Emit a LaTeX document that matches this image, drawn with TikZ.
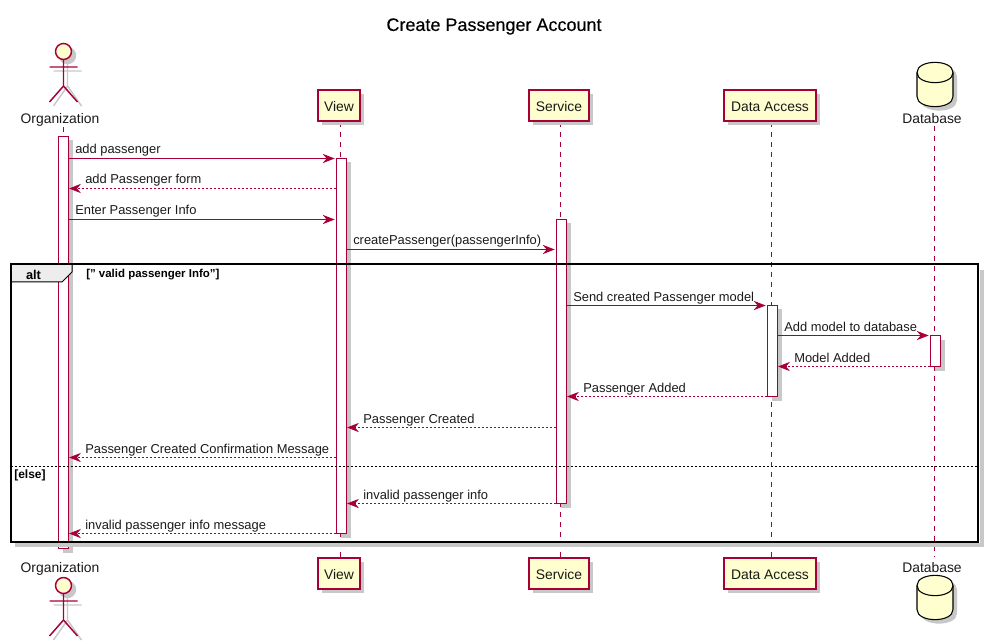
\documentclass[tikz,border=0pt]{standalone}
\usepackage{fontspec}
\setmainfont{Liberation Sans}
\newfontfamily\titlefont[FakeBold=0.25]{Liberation Sans}
\usetikzlibrary{arrows.meta,shadows}
\definecolor{umlred}{HTML}{A80036}
\definecolor{umlfill}{HTML}{FEFECE}
\definecolor{umlshadow}{HTML}{C8C8C8}
\tikzset{
  box/.style={rectangle,draw=umlred,fill=umlfill,line width=1.15pt,inner sep=0pt,minimum height=23.25pt,text height=9pt,text depth=0pt,font=\fontsize{10.4}{12}\selectfont,text=black!90,
    drop shadow={shadow xshift=3pt,shadow yshift=-3pt,fill=umlshadow,opacity=1}},
  bar/.style={rectangle,draw=umlred,fill=white,line width=.75pt,inner sep=0pt,minimum width=7.5pt,
    drop shadow={shadow xshift=3pt,shadow yshift=-3pt,fill=umlshadow,opacity=1}},
  partname/.style={inner sep=0pt,font=\fontsize{10.4}{12}\selectfont,text=black!90},
  ret/.style={draw=umlred,line width=.75pt,-{Stealth[length=9pt,width=7pt,inset=3pt]},dash pattern=on 1.5pt off 1.5pt},
  msg/.style={draw=umlred,line width=.75pt,-{Stealth[length=9pt,width=7pt,inset=3pt]},shorten >=1pt},
  msglabel/.style={anchor=base west,inner sep=0pt,font=\fontsize{9.68}{11}\selectfont,text=black!90},
  life/.style={draw=umlred,line width=.75pt,dash pattern=on 3.75pt off 3.75pt},
  frametext/.style={inner sep=0pt,font=\bfseries\fontsize{8.6}{10}\selectfont}
}
\begin{document}
\begin{tikzpicture}[x=.75pt,y=-.75pt]
\useasboundingbox (0,0) rectangle (991,641);
\node[inner sep=0pt,font=\titlefont\fontsize{13.5}{16}\selectfont] (title) at (494,26.5) {Create Passenger Account};

% lifelines
\foreach \x/\f in {63.5/127, 340.5/122, 560.5/122, 771.5/122, 934.5/126}
  \draw[life] (\x,\f) -- (\x,557);

% actor, top and bottom
\foreach \ay in {43, 577} {
  \draw[umlshadow,line width=1.1pt,fill=umlshadow] (67.5,\ay+12.5) circle (8);
  \draw[umlshadow,line width=1.1pt] (67.5,\ay+20) -- (67.5,\ay+43) -- (53.5,\ay+63) (67.5,\ay+43) -- (81.5,\ay+63) (53.5,\ay+28) -- (81.5,\ay+28);
  \draw[umlred,line width=1.1pt,fill=umlfill] (63.5,\ay+8.5) circle (8);
  \draw[umlred,line width=1.1pt] (63.5,\ay+16.5) -- (63.5,\ay+43) -- (49.5,\ay+59) (63.5,\ay+43) -- (77.5,\ay+59) (49.5,\ay+24) -- (77.5,\ay+24);
}
\node[partname] (orgtop) at (60,119.5) {Organization};
\node[partname] (orgbot) at (60,568.5) {Organization};

% participants
\foreach \n/\x/\w/\t in {view/339/42/View, service/559/60/Service, data/770/92/Data Access} {
  \node[box,minimum width=\w*.75pt] (\n top) at (\x,105.5) {\t};
  \node[box,minimum width=\w*.75pt] (\n bot) at (\x,573.5) {\t};
}

% database, top and bottom
\foreach \dy in {62, 575} {
  \fill[umlshadow,shift={(4,4)}] (917,\dy+10.5) .. controls (917,\dy-3) and (953,\dy-3) .. (953,\dy+10.5) -- (953,\dy+34.5) .. controls (953,\dy+48) and (917,\dy+48) .. (917,\dy+34.5) -- cycle;
  \draw[black,line width=.8pt,fill=umlfill] (917,\dy+10.5) .. controls (917,\dy-3) and (953,\dy-3) .. (953,\dy+10.5) -- (953,\dy+34.5) .. controls (953,\dy+48) and (917,\dy+48) .. (917,\dy+34.5) -- cycle;
  \draw[black,line width=.8pt] (917,\dy+10.5) .. controls (917,\dy+24) and (953,\dy+24) .. (953,\dy+10.5);
}
\node[partname] (dbtoplabel) at (932,118.5) {Database};
\node[partname] (dbbotlabel) at (932,567.5) {Database};

% activation bars
\foreach \n/\x/\f/\s in {barorg/63.5/136.5/548.5, barview/341.5/158.5/533.5, barservice/561.5/219.5/503.5, bardata/772.5/305.5/396.5, bardb/935.5/335.5/366.5}
  \node[bar,minimum height={(\s-\f)*.75pt}] (\n) at (\x,{(\f+\s)/2}) {};

% messages
\foreach \a/\b/\y/\st/\tx/\t [count=\i] in {
  barorg.east/barview.west/158.5/msg/75/add passenger,
  barview.west/barorg.east/188.5/ret/85/add Passenger form,
  barorg.east/barview.west/219.5/msg/75/Enter Passenger Info,
  barview.east/barservice.west/249.5/msg/353/createPassenger(passengerInfo),
  barservice.east/bardata.west/305.5/msg/573/Send created Passenger model,
  bardata.east/bardb.west/335.5/msg/784/Add model to database,
  bardb.west/bardata.east/366.5/ret/794/Model Added,
  bardata.west/barservice.east/396.5/ret/583/Passenger Added,
  barservice.west/barview.east/427.5/ret/363/Passenger Created,
  barview.west/barorg.east/457.5/ret/85/Passenger Created Confirmation Message,
  barservice.west/barview.east/503.5/ret/363/invalid passenger info,
  barview.west/barorg.east/533.5/ret/85/invalid passenger info message} {
  \draw[\st] (\a |- 0,\y) -- (\b |- 0,\y);
  \node[msglabel] (msg\i) at (\tx,\y-4.5) {\t};
}

% alt frame
\draw[umlshadow,line width=3pt] (981.5,270) -- (981.5,545) -- (15,545);
\draw[black,line width=1.5pt] (10.5,264.5) rectangle (978,541.5);
\draw[black,line width=.75pt,fill=black!7] (10.5,264.5) -- (72,264.5) -- (72,272) -- (62,282) -- (10.5,282) -- cycle;
\draw[black,line width=1.5pt] (10.5,264.5) -- (72,264.5) (10.5,264.5) -- (10.5,282);
\draw[black,line width=.75pt,dash pattern=on 1.5pt off 1.5pt] (10.5,466) -- (978,466);
\node[inner sep=0pt,font=\bfseries\fontsize{9.6}{12}\selectfont] (alt) at (33.5,275) {alt};
\node[frametext,anchor=west] (guard) at (86,275) {[" valid passenger Info"]};
\node[frametext,anchor=west,font=\bfseries\fontsize{9}{10}\selectfont] (else) at (14,475) {[else]};
\end{tikzpicture}
\end{document}
